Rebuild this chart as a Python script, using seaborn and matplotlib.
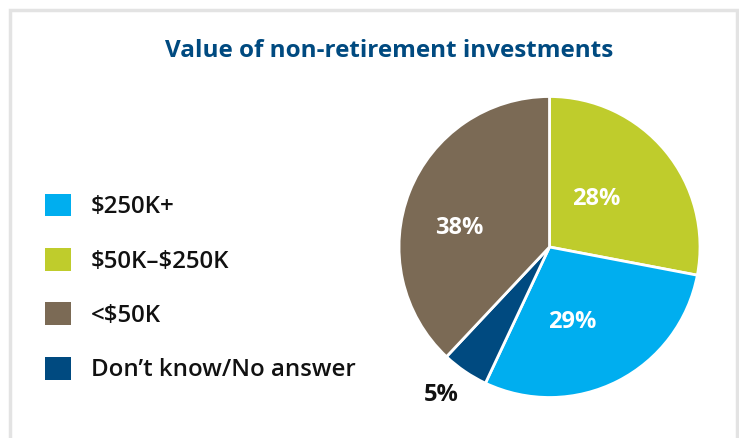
import numpy as np
import matplotlib
matplotlib.use("Agg")
import matplotlib.pyplot as plt
from matplotlib.patches import Rectangle, Patch
import seaborn as sns

# legend order
categories = ["$250K+", "$50K\u2013$250K", "<$50K", "Don\u2019t know/No answer"]
colors = ["#00AEEF", "#BFCC2C", "#7B6A55", "#004A80"]
values = [29, 28, 38, 5]

# clockwise from 12 o'clock in the pie
pie_order = [1, 0, 3, 2]

title = "Value of non-retirement investments"

sns.set_theme(style="white")
plt.rcParams["font.family"] = ["Open Sans", "DejaVu Sans"]
plt.rcParams["text.parse_math"] = False

fig = plt.figure(figsize=(7.39, 4.38), dpi=100)
W, H = 739, 438

# light grey frame
fig.add_artist(Rectangle((9.5 / W, -0.05), (727 / W), (1 - 10 / H) + 0.05,
                         transform=fig.transFigure, fill=False,
                         edgecolor="#E3E3E3", linewidth=2.5, clip_on=False))

fig.text(389 / W, 1 - 51 / H, title, ha="center", va="center",
         fontsize=17.5, fontweight="bold", color="#004A80")

ax = fig.add_axes([399 / W, 40.5 / H, 301 / W, 301 / H])
pie_vals = [values[i] for i in pie_order]
pie_cols = [colors[i] for i in pie_order]
wedges, texts, autotexts = ax.pie(
    pie_vals, colors=pie_cols, startangle=90, counterclock=False,
    autopct=lambda p: f"{p:.0f}%", pctdistance=0.55,
    wedgeprops=dict(edgecolor="white", linewidth=2),
    textprops=dict(color="white", fontsize=17, fontweight="bold"))
ax.set_xlim(-1, 1)
ax.set_ylim(-1, 1)
ax.set_aspect("equal")

# label placement (fraction of radius, angle nudge in degrees), pie order
label_r = [0.46, 0.50, 1.2, 0.62]
label_nudge = [8, -9.5, -2.5, 8]
for w, t, r, d, v in zip(wedges, autotexts, label_r, label_nudge, pie_vals):
    ang = np.deg2rad((w.theta1 + w.theta2) / 2 + d)
    t.set_position((r * np.cos(ang), r * np.sin(ang)))
    t.set_va("center_baseline")
    if v < 10:
        t.set_color("#111111")
        t.set_clip_on(False)

handles = [Patch(facecolor=c, edgecolor="none") for c in colors]
fig.legend(handles, categories, loc="center left",
           bbox_to_anchor=(45 / W, 1 - 288 / H), frameon=False,
           borderpad=0, borderaxespad=0,
           prop=dict(size=17.3, weight="semibold"),
           handlelength=1.08, handleheight=1.08,
           handletextpad=0.83, labelspacing=1.2, labelcolor="#111111")

fig.savefig("out.png", dpi=100)
